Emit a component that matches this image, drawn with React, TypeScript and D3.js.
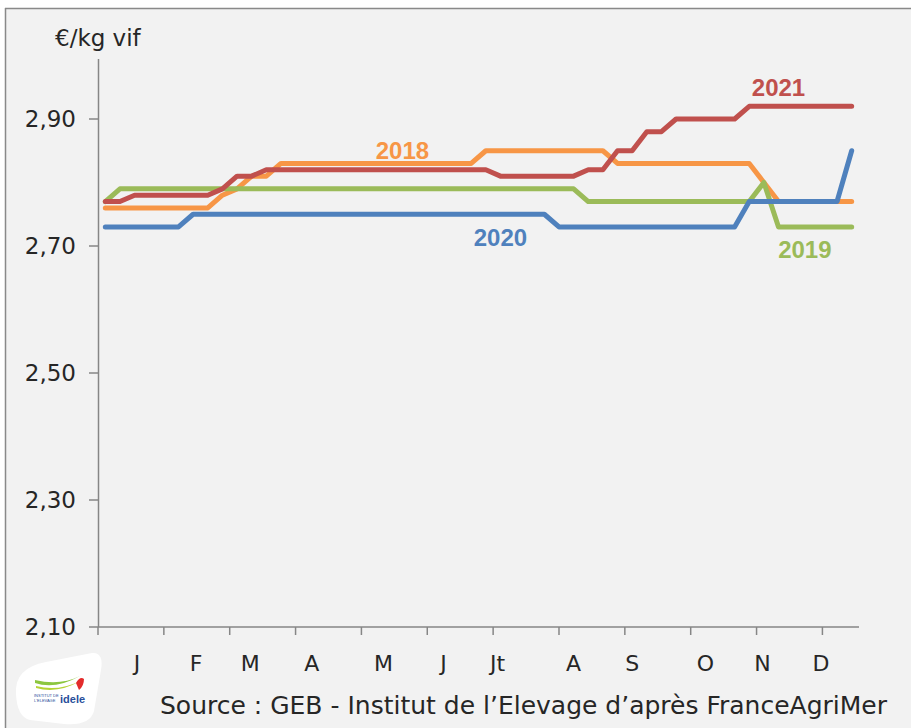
import React from 'react';
import * as d3 from 'd3';

// cotations hebdomadaires (€/kg vif), 52 semaines
const s2018 = [
  2.76, 2.76, 2.76, 2.76, 2.76, 2.76, 2.76, 2.76, 2.78, 2.79, 2.81, 2.81, 2.83,
  2.83, 2.83, 2.83, 2.83, 2.83, 2.83, 2.83, 2.83, 2.83, 2.83, 2.83, 2.83, 2.83,
  2.85, 2.85, 2.85, 2.85, 2.85, 2.85, 2.85, 2.85, 2.85, 2.83, 2.83, 2.83, 2.83,
  2.83, 2.83, 2.83, 2.83, 2.83, 2.83, 2.8, 2.77, 2.77, 2.77, 2.77, 2.77, 2.77,
];
const s2019 = [
  2.77, 2.79, 2.79, 2.79, 2.79, 2.79, 2.79, 2.79, 2.79, 2.79, 2.79, 2.79, 2.79,
  2.79, 2.79, 2.79, 2.79, 2.79, 2.79, 2.79, 2.79, 2.79, 2.79, 2.79, 2.79, 2.79,
  2.79, 2.79, 2.79, 2.79, 2.79, 2.79, 2.79, 2.77, 2.77, 2.77, 2.77, 2.77, 2.77,
  2.77, 2.77, 2.77, 2.77, 2.77, 2.77, 2.8, 2.73, 2.73, 2.73, 2.73, 2.73, 2.73,
];
const s2020 = [
  2.73, 2.73, 2.73, 2.73, 2.73, 2.73, 2.75, 2.75, 2.75, 2.75, 2.75, 2.75, 2.75,
  2.75, 2.75, 2.75, 2.75, 2.75, 2.75, 2.75, 2.75, 2.75, 2.75, 2.75, 2.75, 2.75,
  2.75, 2.75, 2.75, 2.75, 2.75, 2.73, 2.73, 2.73, 2.73, 2.73, 2.73, 2.73, 2.73,
  2.73, 2.73, 2.73, 2.73, 2.73, 2.77, 2.77, 2.77, 2.77, 2.77, 2.77, 2.77, 2.85,
];
const s2021 = [
  2.77, 2.77, 2.78, 2.78, 2.78, 2.78, 2.78, 2.78, 2.79, 2.81, 2.81, 2.82, 2.82,
  2.82, 2.82, 2.82, 2.82, 2.82, 2.82, 2.82, 2.82, 2.82, 2.82, 2.82, 2.82, 2.82,
  2.82, 2.81, 2.81, 2.81, 2.81, 2.81, 2.81, 2.82, 2.82, 2.85, 2.85, 2.88, 2.88,
  2.9, 2.9, 2.9, 2.9, 2.9, 2.92, 2.92, 2.92, 2.92, 2.92, 2.92, 2.92, 2.92,
];

const years = ['2018', '2019', '2020', '2021'];
const colors = ['#f79646', '#9bbb59', '#4f81bd', '#c0504d'];
// position des étiquettes (semaine, valeur)
const labelWeek = [20.8, 48.3, 27.5, 46.5];
const labelValue = [2.851, 2.695, 2.714, 2.95];

const months = ['J', 'F', 'M', 'A', 'M', 'J', 'Jt', 'A', 'S', 'O', 'N', 'D'];
const monthWeek = [2.66, 6.7, 10.4, 14.6, 19.5, 23.6, 27.3, 32.5, 36.5, 41.5, 45.4, 49.4];
const xTicks = d3.range(0, 52, 4.5);
const yTicks = [2.1, 2.3, 2.5, 2.7, 2.9];

const W = 911;
const H = 728;
const font = "'DejaVu Sans', sans-serif";

export default function App() {
  const series = [s2018, s2019, s2020, s2021];
  const x = d3.scaleLinear().domain([0, 52]).range([98, 859]);
  const y = d3.scaleLinear().domain([2.1, 2.9]).range([627, 119]);
  const line = d3
    .line<number>()
    .x((_, i) => x(i + 0.5))
    .y((d) => y(d));
  const fmt = (v: number) => v.toFixed(2).replace('.', ',');
  const axisColor = '#868686';
  const txt = '#262626';

  return (
    <svg
      width={W}
      height={H}
      style={{ position: 'absolute', left: 0, top: 0 }}
      fontFamily={font}
    >
      <rect x={0} y={0} width={W} height={H} fill="#ffffff" />
      <rect x={5} y={8} width={W} height={H} fill="#f2f2f2" />
      <line x1={5} x2={W} y1={8.5} y2={8.5} stroke="#898989" strokeWidth={1.5} />
      <line x1={5.5} x2={5.5} y1={8} y2={H} stroke="#898989" strokeWidth={1.5} />

      <text x={55} y={46} fontSize={23} fill={txt}>
        €/kg vif
      </text>

      {/* axe Y */}
      <line x1={98.5} x2={98.5} y1={59} y2={y(2.1)} stroke={axisColor} strokeWidth={1.5} />
      {yTicks.map((t) => (
        <g key={t}>
          <line x1={89} x2={98} y1={y(t)} y2={y(t)} stroke={axisColor} strokeWidth={1.5} />
          <text x={76} y={y(t)} dy="0.36em" textAnchor="end" fontSize={23} fill={txt}>
            {fmt(t)}
          </text>
        </g>
      ))}

      {/* axe X */}
      <line x1={98} x2={859} y1={y(2.1)} y2={y(2.1)} stroke={axisColor} strokeWidth={1.5} />
      {xTicks.map((t) => (
        <line key={t} x1={x(t)} x2={x(t)} y1={y(2.1)} y2={y(2.1) + 8} stroke={axisColor} strokeWidth={1.5} />
      ))}
      {months.map((m, i) => (
        <text key={i} x={x(monthWeek[i])} y={671} textAnchor="middle" fontSize={22} fill={txt}>
          {m}
        </text>
      ))}

      {series.map((s, k) => (
        <path
          key={years[k]}
          d={line(s) ?? ''}
          fill="none"
          stroke={colors[k]}
          strokeWidth={5}
          strokeLinejoin="round"
          strokeLinecap="round"
        />
      ))}
      {years.map((yr, k) => (
        <text
          key={yr}
          x={x(labelWeek[k])}
          y={y(labelValue[k])}
          dy="0.36em"
          textAnchor="middle"
          fontSize={24}
          fontWeight="bold"
          fontFamily="'Liberation Sans', Arial, sans-serif"
          fill={colors[k]}
        >
          {yr}
        </text>
      ))}

      {/* logo */}
      <g>
        <path
          d="M16,694 Q14,668 46,662 L92,653 Q104,652 101,670 L94,711 Q90,726 64,724 L30,720 Q17,717 16,694 Z"
          fill="#ffffff"
        />
        <path d="M35,683 Q55,690 80,676 Q60,686 35,680 Z" fill="#8cc63f" />
        <path d="M36,688 Q58,694 80,681 Q58,692 36,686 Z" fill="#b5d334" />
        <path d="M76,683 Q80,676 84,679 Q84,686 79,690 Z" fill="#e32b2b" />
        <text x={34} y={697} fontSize={4} fill="#2a4f9b" fontFamily="'Liberation Sans', sans-serif">
          INSTITUT DE
        </text>
        <text x={34} y={702} fontSize={4} fill="#2a4f9b" fontFamily="'Liberation Sans', sans-serif">
          L'ELEVAGE
        </text>
        <text x={60} y={703} fontSize={11} fontWeight="bold" fill="#2a4f9b" fontFamily="'Liberation Sans', sans-serif">
          idele
        </text>
      </g>

      <text x={160} y={714} fontSize={25} fill={txt}>
        Source : GEB - Institut de l’Elevage d’après FranceAgriMer
      </text>
    </svg>
  );
}
